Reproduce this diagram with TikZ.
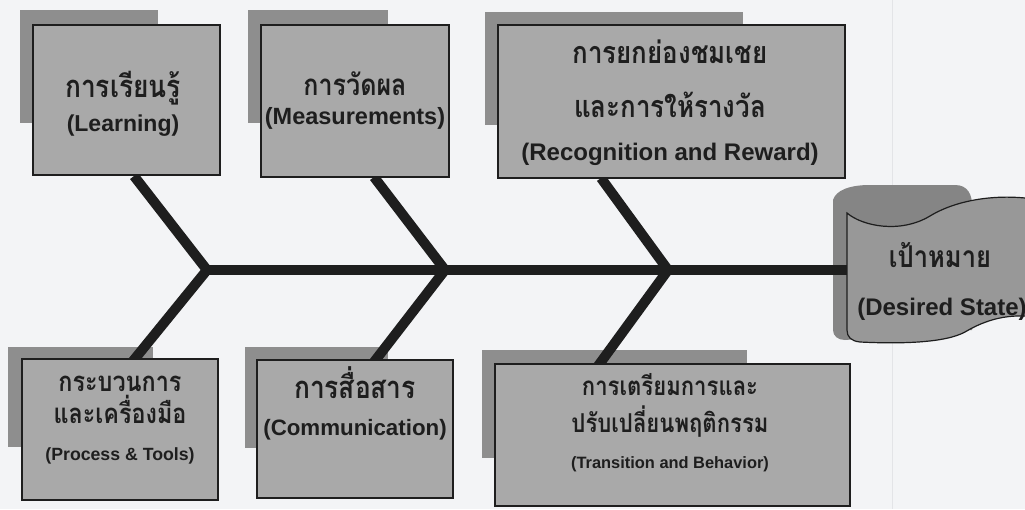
\documentclass[tikz,border=0pt]{standalone}
\usepackage{fontspec}
\setmainfont{Liberation Sans}
\newfontfamily\thaifont[Script=Thai,FakeStretch=0.85]{Loma}
\usetikzlibrary{calc}
\definecolor{bg}{HTML}{F3F4F6}
\definecolor{boxfill}{HTML}{A9A9A9}
\definecolor{shadowfill}{HTML}{8E8E8E}
\definecolor{goalfill}{HTML}{989898}
\definecolor{goalshadow}{HTML}{858585}
\definecolor{ink}{HTML}{1E1E1E}
\definecolor{scanline}{HTML}{E3E4E7}
\begin{document}
\begin{tikzpicture}[x=1pt,y=-1pt,
  shadowbox/.style={fill=shadowfill, draw=none},
  frontbox/.style={fill=boxfill, draw=ink, line width=1.5pt, inner sep=0},
  bone/.style={draw=ink, line width=10pt, line join=miter},
  th/.style={font=\thaifont\bfseries\fontsize{#1}{#1}\selectfont, text=ink, inner sep=0, anchor=base},
  en/.style={font=\bfseries\fontsize{#1}{#1}\selectfont, text=ink, inner sep=0, anchor=base},
]
\useasboundingbox (0,0) rectangle (1025,509);
\clip (0,0) rectangle (1025,509);
\fill[bg] (0,0) rectangle (1025,509);
\draw[scanline, line width=1pt] (892,0) -- (892,509);

% shadows
\path[shadowbox] (20,10) rectangle (158,123);
\path[shadowbox] (248,10) rectangle (388,123);
\path[shadowbox] (485,12) rectangle (743,125);
\path[shadowbox] (8,347) rectangle (153,447);
\path[shadowbox] (245,347) rectangle (388,448);
\path[shadowbox] (482,350) rectangle (747,458);

% goal shape
\fill[goalshadow] (833,200) .. controls (836,190) and (850,185) .. (870,185) -- (955,185)
  .. controls (968,185) and (972,195) .. (972,205) -- (972,330) -- (845,340)
  .. controls (838,340) and (833,336) .. (833,330) -- cycle;
\filldraw[fill=goalfill, draw=ink, line width=1.2pt] (847,213) .. controls (862,226) and (900,234) .. (930,216)
  .. controls (958,199) and (1000,193) .. (1040,200) -- (1040,318)
  .. controls (1010,312) and (985,320) .. (965,332) .. controls (945,343) and (900,344) .. (860,342)
  .. controls (851,341) and (847,337) .. (847,330) -- cycle;
\node[th=30] (gth) at (940,267) {เป้าหมาย};
\node[en=24] (gen) at (942,315) {(Desired State)};

% spine and bones
\coordinate (j1) at (207,270);
\coordinate (j2) at (445,270);
\coordinate (j3) at (668,270);
\coordinate (gl) at (847,270);
\coordinate (u1) at (134,176);
\coordinate (u2) at (374,177);
\coordinate (u3) at (601,178);
\coordinate (d1) at (133,361);
\coordinate (d2) at (374,362);
\coordinate (d3) at (598,366);
\draw[bone] (j1) -- (gl);
\draw[bone] (u1) -- (j1) -- (d1);
\draw[bone] (u2) -- (j2) -- (d2);
\draw[bone] (u3) -- (j3) -- (d3);

% front boxes
\node[frontbox, minimum width=187, minimum height=150] (b1) at (126.5,100) {};
\node[frontbox, minimum width=188, minimum height=152] (b2) at (355,101) {};
\node[frontbox, minimum width=347, minimum height=153] (b3) at (671.5,101.5) {};
\node[frontbox, minimum width=196, minimum height=141] (b4) at (120,429.5) {};
\node[frontbox, minimum width=196, minimum height=138] (b5) at (355,429) {};
\node[frontbox, minimum width=355, minimum height=142] (b6) at (672.5,435) {};

% texts
\node[th=31] (t1a) at (123,97) {การเรียนรู้};
\node[en=23] (t1b) at (123,131) {(Learning)};
\node[th=29.5] (t2a) at (355,95) {การวัดผล};
\node[en=23.5] (t2b) at (355,124) {(Measurements)};
\node[th=30.5] (t3a) at (670,63) {การยกย่องชมเชย};
\node[th=30.5] (t3b) at (670,117) {และการให้รางวัล};
\node[en=24] (t3c) at (670,160) {(Recognition and Reward)};
\node[th=27.5] (t4a) at (120,391) {กระบวนการ};
\node[th=27.5] (t4b) at (120,423) {และเครื่องมือ};
\node[en=17.7] (t4c) at (120,460) {(Process \& Tools)};
\node[th=31] (t5a) at (355,398) {การสื่อสาร};
\node[en=22.3] (t5b) at (355,435) {(Communication)};
\node[th=26] (t6a) at (670,395) {การเตรียมการและ};
\node[th=26] (t6b) at (670,432) {ปรับเปลี่ยนพฤติกรรม};
\node[en=16.4] (t6c) at (670,468) {(Transition and Behavior)};
\end{tikzpicture}
\end{document}
